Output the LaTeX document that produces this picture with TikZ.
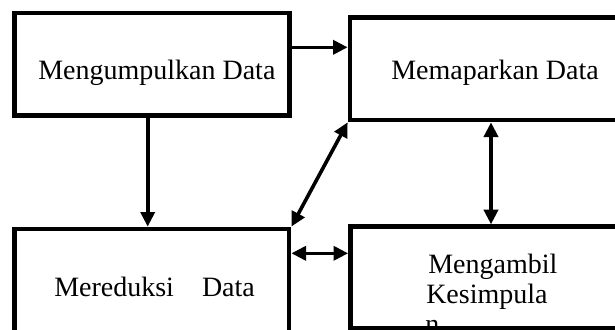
\documentclass[tikz,border=0pt]{standalone}
\usepackage{fontspec}
\setmainfont{Liberation Serif}
\usetikzlibrary{arrows.meta}
\begin{document}
\begin{tikzpicture}[x=0.75pt,y=-0.75pt,
  box/.style={draw=black,line width=3.5pt,rectangle,inner sep=0pt},
  lbl/.style={inner sep=0pt,anchor=base west,font=\fontsize{21pt}{22.5pt}\selectfont},
  arr/.style={line width=2.7pt,-{Triangle[length=11pt,width=10.5pt]}},
  darr/.style={line width=2.7pt,{Triangle[length=11pt,width=10.5pt]}-{Triangle[length=11pt,width=10.5pt]}}]
\useasboundingbox (0,0) rectangle (615,329);
\clip (0,0) rectangle (615,329);
% texts
\node[lbl] (t1) at (38,79) {Mengumpulkan Data};
\node[lbl] (t2) at (391,79.3) {Memaparkan Data};
\node[lbl] (t3) at (54,296) {Mereduksi\hspace*{21pt}Data};
\node[lbl] (t4a) at (428,273) {Mengambil};
\node[lbl] (t4b) at (426,303) {Kesimpula};
\node[lbl] (t4c) at (425,333) {n};
% boxes
\node[box,minimum width=206.3pt,minimum height=77pt] (b1) at (152,64.35) {};
\node[box,minimum width=262.5pt,minimum height=76.9pt] (b2) at (525,68.75) {};
\node[box,minimum width=206pt,minimum height=128.25pt] (b3) at (151.7,314.5) {};
\node[box,minimum width=262.1pt,minimum height=76.35pt] (b4) at (525.25,277.6) {};
% connectors
\draw[arr] (b1.east |- 0,47.3) -- (b2.west |- 0,47.3);
\draw[arr] (b1.south -| 147.7,0) -- (b3.north -| 147.7,0);
\draw[darr] (b2.south west) -- (b3.north east);
\draw[darr] (b2.south -| 491,0) -- (b4.north -| 491,0);
\draw[darr] (b3.east |- 0,253.3) -- (b4.west |- 0,253.3);
\end{tikzpicture}
\end{document}
